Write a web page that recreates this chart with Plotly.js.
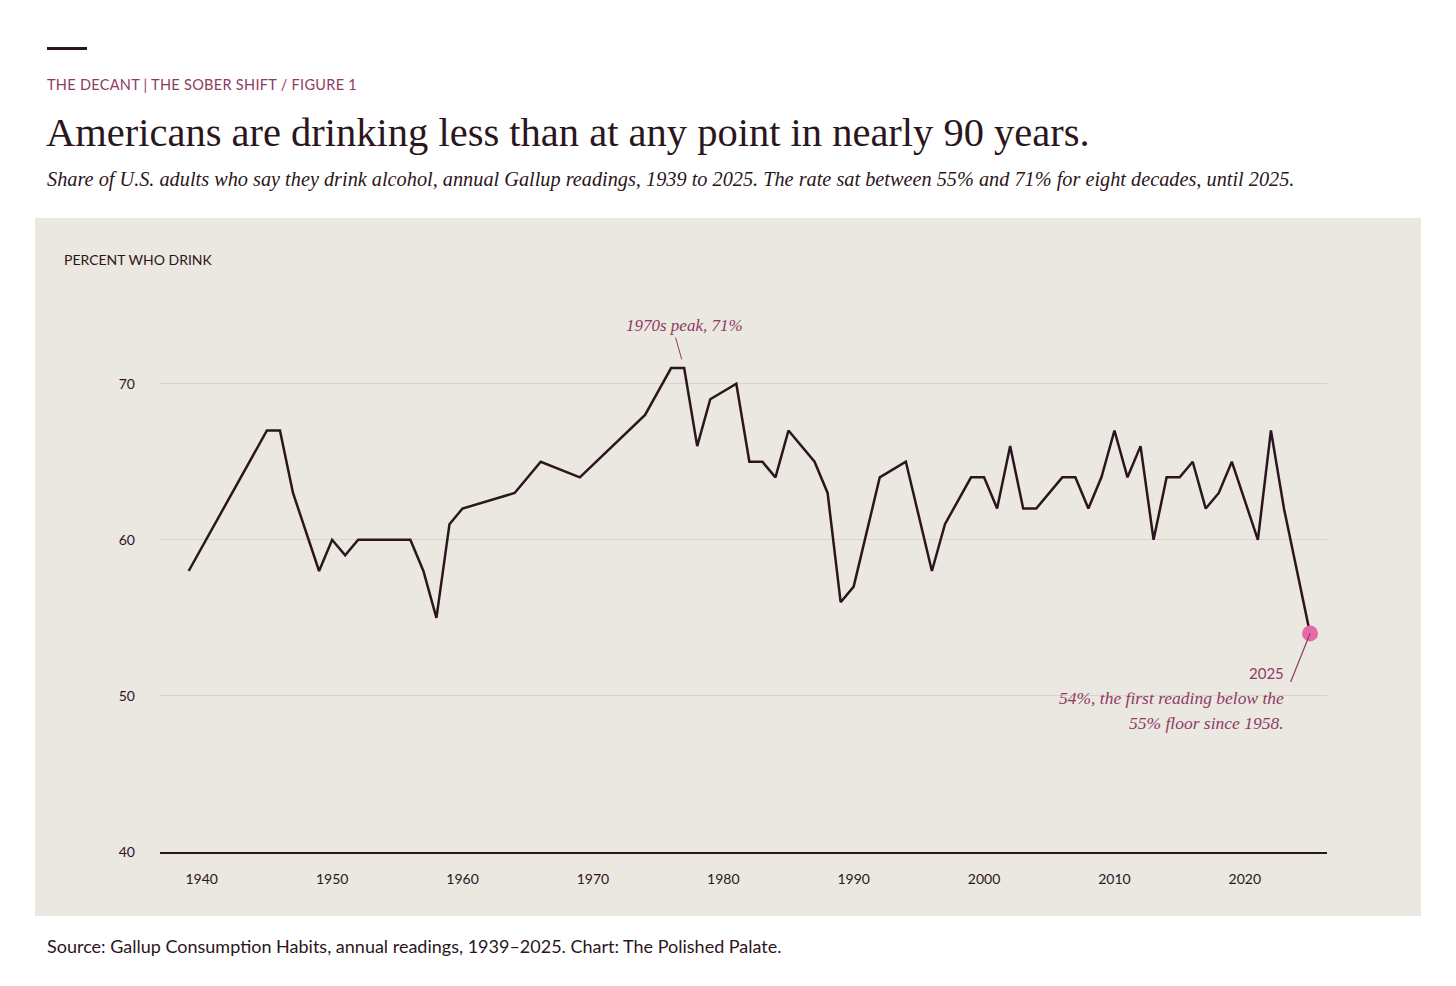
<!DOCTYPE html>
<html>
<head>
<meta charset="utf-8">
<script src="https://cdn.plot.ly/plotly-3.0.1.min.js"></script>
<style>
  html, body { margin: 0; padding: 0; background: #ffffff; width: 1456px; height: 986px; overflow: hidden; }
  .abs { position: absolute; white-space: nowrap; }
  #bar { left: 47px; top: 47px; width: 40px; height: 3px; background: #2b1620; }
  #eyebrow { left: 47px; top: 77px; font-family: Lato, sans-serif; font-size: 14.5px; line-height: 15px; color: #8e3b63; letter-spacing: 0.3px; }
  #title { left: 46px; top: 113px; font-family: "Liberation Serif", "DejaVu Serif", serif; font-size: 40.5px; line-height: 40px; color: #2b1620; letter-spacing: 0px; }
  #subtitle { left: 47px; top: 169px; font-family: "Liberation Serif", "DejaVu Serif", serif; font-style: italic; font-size: 20.3px; line-height: 20px; color: #2b1620; }
  #panel { left: 35px; top: 218px; width: 1386px; height: 698px; background: #ebe7e1; }
  #chart { width: 1386px; height: 698px; }
  #source { left: 47px; top: 937px; font-family: Lato, sans-serif; font-size: 18px; line-height: 18px; color: #2b1620; }
</style>
</head>
<body>
<div id="bar" class="abs"></div>
<div id="eyebrow" class="abs">THE DECANT | THE SOBER SHIFT / FIGURE 1</div>
<div id="title" class="abs">Americans are drinking less than at any point in nearly 90 years.</div>
<div id="subtitle" class="abs">Share of U.S. adults who say they drink alcohol, annual Gallup readings, 1939 to 2025. The rate sat between 55% and 71% for eight decades, until 2025.</div>
<div id="panel" class="abs"><div id="chart"></div></div>
<div id="source" class="abs">Source: Gallup Consumption Habits, annual readings, 1939–2025. Chart: The Polished Palate.</div>
<script>
// Data
const years = [1939, 1945, 1946, 1947, 1949, 1950, 1951, 1952, 1956, 1957, 1958, 1959, 1960,
  1964, 1966, 1969, 1974, 1976, 1977, 1978, 1979, 1981, 1982, 1983, 1984, 1985, 1987, 1988,
  1989, 1990, 1992, 1994, 1996, 1997, 1999, 2000, 2001, 2002, 2003, 2004, 2006, 2007, 2008,
  2009, 2010, 2011, 2012, 2013, 2014, 2015, 2016, 2017, 2018, 2019, 2021, 2022, 2023, 2025];
const pctDrink = [58, 67, 67, 63, 58, 60, 59, 60, 60, 58, 55, 61, 62,
  63, 65, 64, 68, 71, 71, 66, 69, 70, 65, 65, 64, 67, 65, 63,
  56, 57, 64, 65, 58, 61, 64, 64, 62, 66, 62, 62, 64, 64, 62,
  64, 67, 64, 66, 60, 64, 64, 65, 62, 63, 65, 60, 67, 62, 54];
const xTicks = [1940, 1950, 1960, 1970, 1980, 1990, 2000, 2010, 2020];
const yTicks = [40, 50, 60, 70];
const peakYear = 1977, peakValue = 71;
const lastYear = 2025, lastValue = 54;

const dark = '#2b1620';
const accent = '#8e3b63';
const pink = '#e76aa8';
const bg = '#ebe7e1';
const sans = 'Lato, sans-serif';
const serif = '"Liberation Serif", "DejaVu Serif", serif';

const traces = [
  {
    x: years, y: pctDrink, type: 'scatter', mode: 'lines',
    line: { color: dark, width: 2.5 },
    hoverinfo: 'x+y', showlegend: false
  },
  {
    x: [lastYear], y: [lastValue], type: 'scatter', mode: 'markers',
    marker: { color: pink, size: 16 },
    hoverinfo: 'x+y', showlegend: false
  }
];

const layout = {
  width: 1386, height: 698,
  margin: { l: 125, r: 94, t: 72, b: 64 },
  paper_bgcolor: bg, plot_bgcolor: bg,
  showlegend: false,
  xaxis: {
    range: [1936.8, 2026.3],
    tickvals: xTicks, ticktext: xTicks.map(String),
    showgrid: false, zeroline: false,
    showline: true, linecolor: dark, linewidth: 1.5,
    ticks: '', ticklabelstandoff: 14,
    tickfont: { family: sans, size: 14, color: dark },
    fixedrange: true
  },
  yaxis: {
    range: [40, 76],
    tickvals: yTicks, ticktext: yTicks.map(String),
    showgrid: true, gridcolor: '#d8d3cb', gridwidth: 1.2,
    zeroline: false, showline: false,
    ticks: '', ticklabelstandoff: 24,
    tickfont: { family: sans, size: 14, color: dark },
    fixedrange: true
  },
  annotations: [
    {
      xref: 'paper', yref: 'paper', x: -0.0840, y: 1.0534,
      xanchor: 'left', yanchor: 'middle', showarrow: false,
      text: 'PERCENT WHO DRINK',
      font: { family: sans, size: 14, color: dark }
    },
    {
      x: peakYear, y: peakValue, xref: 'x', yref: 'y',
      showarrow: false, yshift: 43, xanchor: 'center', yanchor: 'middle',
      text: '<i>1970s peak, 71%</i>',
      font: { family: serif, size: 17, color: accent }
    },
    {
      x: peakYear, y: peakValue, xref: 'x', yref: 'y',
      text: '', showarrow: true, arrowhead: 0, arrowwidth: 1, arrowcolor: accent,
      ax: -9, ay: -32, standoff: 9
    },
    {
      x: lastYear, y: lastValue, xref: 'x', yref: 'y',
      text: '', showarrow: true, arrowhead: 0, arrowwidth: 1.2, arrowcolor: accent,
      ax: -20, ay: 50, standoff: 0
    },
    {
      x: lastYear, y: lastValue, xref: 'x', yref: 'y',
      showarrow: false, xanchor: 'right', yanchor: 'middle', xshift: -24, yshift: -40,
      text: '2025', font: { family: sans, size: 15, color: accent }
    },
    {
      x: lastYear, y: lastValue, xref: 'x', yref: 'y',
      showarrow: false, xanchor: 'right', yanchor: 'middle', xshift: -24, yshift: -65,
      text: '<i>54%, the first reading below the</i>', font: { family: serif, size: 17.5, color: accent }
    },
    {
      x: lastYear, y: lastValue, xref: 'x', yref: 'y',
      showarrow: false, xanchor: 'right', yanchor: 'middle', xshift: -24, yshift: -90,
      text: '<i>55% floor since 1958.</i>', font: { family: serif, size: 17.5, color: accent }
    }
  ]
};

Plotly.newPlot('chart', traces, layout, { displayModeBar: false, staticPlot: true });
</script>
</body>
</html>
